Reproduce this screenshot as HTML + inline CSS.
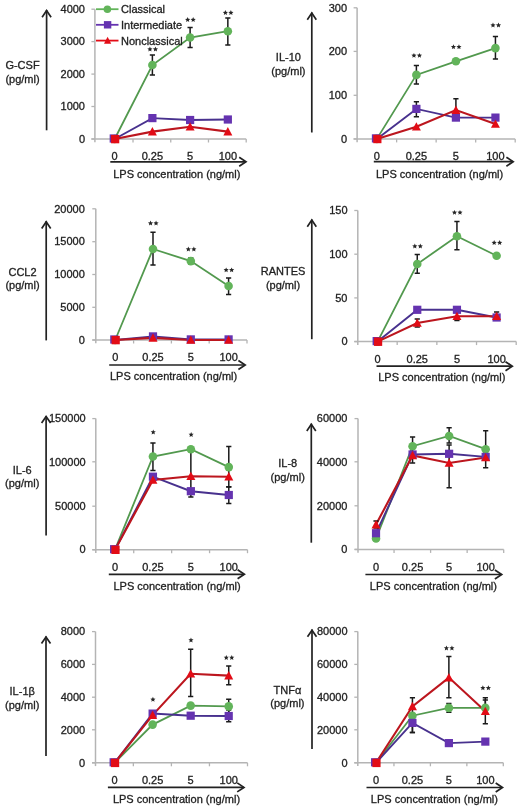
<!DOCTYPE html>
<html><head><meta charset="utf-8"><style>
html,body{margin:0;padding:0;background:#fff;}
svg{display:block;will-change:transform;filter:blur(0.35px);}
text{stroke:#222;stroke-width:0.3px;}
</style></head><body>
<svg width="520" height="809" viewBox="0 0 520 809" font-family="&quot;Liberation Sans&quot;, sans-serif" font-size="11" fill="#222">
<rect width="520" height="809" fill="#fff"/>
<line x1="94.9" y1="9.2" x2="94.9" y2="142.3" stroke="#b4b4b4" stroke-width="1.5"/>
<line x1="91.4" y1="139" x2="246.2" y2="139" stroke="#b4b4b4" stroke-width="1.5"/>
<line x1="91.4" y1="139" x2="94.9" y2="139" stroke="#b4b4b4" stroke-width="1.3"/>
<text x="85" y="142.7" text-anchor="end">0</text>
<line x1="91.4" y1="106.5" x2="94.9" y2="106.5" stroke="#b4b4b4" stroke-width="1.3"/>
<text x="85" y="110.2" text-anchor="end">1000</text>
<line x1="91.4" y1="74.1" x2="94.9" y2="74.1" stroke="#b4b4b4" stroke-width="1.3"/>
<text x="85" y="77.8" text-anchor="end">2000</text>
<line x1="91.4" y1="41.6" x2="94.9" y2="41.6" stroke="#b4b4b4" stroke-width="1.3"/>
<text x="85" y="45.3" text-anchor="end">3000</text>
<line x1="91.4" y1="9.2" x2="94.9" y2="9.2" stroke="#b4b4b4" stroke-width="1.3"/>
<text x="85" y="12.9" text-anchor="end">4000</text>
<line x1="133.02" y1="139" x2="133.02" y2="142.5" stroke="#b4b4b4" stroke-width="1.3"/>
<line x1="170.75" y1="139" x2="170.75" y2="142.5" stroke="#b4b4b4" stroke-width="1.3"/>
<line x1="208.47" y1="139" x2="208.47" y2="142.5" stroke="#b4b4b4" stroke-width="1.3"/>
<line x1="246.2" y1="139" x2="246.2" y2="142.5" stroke="#b4b4b4" stroke-width="1.3"/>
<line x1="46.6" y1="10" x2="46.6" y2="130.3" stroke="#222" stroke-width="1.7"/>
<polyline points="42.1,17.2 46.6,10.6 51.1,17.2" fill="none" stroke="#222" stroke-width="1.7"/>
<text x="22.5" y="68.7" text-anchor="middle">G-CSF</text>
<text x="22.5" y="82.5" text-anchor="middle">(pg/ml)</text>
<text x="114.66" y="160.1" text-anchor="middle">0</text>
<text x="152.39" y="160.1" text-anchor="middle">0.25</text>
<text x="190.11" y="160.1" text-anchor="middle">5</text>
<text x="227.84" y="160.1" text-anchor="middle">100</text>
<line x1="110.3" y1="161.8" x2="245.6" y2="161.8" stroke="#222" stroke-width="1.7"/>
<polyline points="239.2,157.3 246,161.8 239.2,166.3" fill="none" stroke="#222" stroke-width="1.7"/>
<text x="113.2" y="178.1">LPS concentration (ng/ml)</text>
<polyline points="114.66,139 152.39,65 190.11,37.5 227.84,31.2" fill="none" stroke="#52994e" stroke-width="1.8"/>
<polyline points="114.66,139 152.39,118.1 190.11,120 227.84,119.5" fill="none" stroke="#48318e" stroke-width="1.9"/>
<polyline points="114.66,139 152.39,131.6 190.11,126.8 227.84,131.6" fill="none" stroke="#bc161e" stroke-width="2.1"/>
<path d="M152.39 55.1V74.9M149.79 55.1H154.99M149.79 74.9H154.99" stroke="#1a1a1a" stroke-width="1.5" fill="none"/>
<path d="M190.11 27.6V47.4M187.51 27.6H192.71M187.51 47.4H192.71" stroke="#1a1a1a" stroke-width="1.5" fill="none"/>
<path d="M227.84 18V44.9M225.24 18H230.44M225.24 44.9H230.44" stroke="#1a1a1a" stroke-width="1.5" fill="none"/>
<circle cx="114.66" cy="139" r="4.3" fill="#62b45a"/>
<circle cx="152.39" cy="65" r="4.3" fill="#62b45a"/>
<circle cx="190.11" cy="37.5" r="4.3" fill="#62b45a"/>
<circle cx="227.84" cy="31.2" r="4.3" fill="#62b45a"/>
<rect x="109.66" y="134.4" width="8.2" height="8.2" fill="#6533b0"/>
<rect x="148.29" y="114" width="8.2" height="8.2" fill="#6533b0"/>
<rect x="186.01" y="115.9" width="8.2" height="8.2" fill="#6533b0"/>
<rect x="223.74" y="115.4" width="8.2" height="8.2" fill="#6533b0"/>
<rect x="111.06" y="134.9" width="8.2" height="8.4" fill="#e20c16"/>
<polygon points="152.39,126.98 147.89,135.38 156.89,135.38" fill="#e20c16"/>
<polygon points="190.11,122.18 185.61,130.58 194.61,130.58" fill="#e20c16"/>
<polygon points="227.84,126.98 223.34,135.38 232.34,135.38" fill="#e20c16"/>
<polygon points="149.94,46.6 150.67,48.29 152.51,48.47 151.13,49.69 151.52,51.48 149.94,50.55 148.35,51.48 148.75,49.69 147.37,48.47 149.2,48.29" fill="#262626"/>
<polygon points="155.44,46.6 156.17,48.29 158.01,48.47 156.63,49.69 157.02,51.48 155.44,50.55 153.85,51.48 154.25,49.69 152.87,48.47 154.7,48.29" fill="#262626"/>
<polygon points="187.66,17.1 188.4,18.79 190.23,18.97 188.85,20.19 189.25,21.98 187.66,21.05 186.08,21.98 186.47,20.19 185.09,18.97 186.93,18.79" fill="#262626"/>
<polygon points="193.16,17.1 193.9,18.79 195.73,18.97 194.35,20.19 194.75,21.98 193.16,21.05 191.58,21.98 191.97,20.19 190.59,18.97 192.43,18.79" fill="#262626"/>
<polygon points="225.39,10.1 226.12,11.79 227.96,11.97 226.58,13.19 226.97,14.98 225.39,14.05 223.8,14.98 224.2,13.19 222.82,11.97 224.65,11.79" fill="#262626"/>
<polygon points="230.89,10.1 231.62,11.79 233.46,11.97 232.08,13.19 232.47,14.98 230.89,14.05 229.3,14.98 229.7,13.19 228.32,11.97 230.15,11.79" fill="#262626"/>
<line x1="96" y1="9.2" x2="118.5" y2="9.2" stroke="#62b45a" stroke-width="1.8"/>
<circle cx="107.4" cy="9.2" r="3.8" fill="#62b45a"/>
<text x="121" y="13.1">Classical</text>
<line x1="96" y1="24.8" x2="118.5" y2="24.8" stroke="#6533b0" stroke-width="1.8"/>
<rect x="103.9" y="21.1" width="7.4" height="7.4" fill="#6533b0"/>
<text x="121" y="28.7">Intermediate</text>
<line x1="96" y1="40.6" x2="118.5" y2="40.6" stroke="#e20c16" stroke-width="1.8"/>
<polygon points="107.6,36.86 104,43.66 111.2,43.66" fill="#e20c16"/>
<text x="121" y="44.5">Nonclassical</text>
<line x1="357.1" y1="7.8" x2="357.1" y2="142.2" stroke="#b4b4b4" stroke-width="1.5"/>
<line x1="353.6" y1="138.9" x2="515.2" y2="138.9" stroke="#b4b4b4" stroke-width="1.5"/>
<line x1="353.6" y1="138.9" x2="357.1" y2="138.9" stroke="#b4b4b4" stroke-width="1.3"/>
<text x="347" y="142.6" text-anchor="end">0</text>
<line x1="353.6" y1="95.3" x2="357.1" y2="95.3" stroke="#b4b4b4" stroke-width="1.3"/>
<text x="347" y="99" text-anchor="end">100</text>
<line x1="353.6" y1="51.4" x2="357.1" y2="51.4" stroke="#b4b4b4" stroke-width="1.3"/>
<text x="347" y="55.1" text-anchor="end">200</text>
<line x1="353.6" y1="7.8" x2="357.1" y2="7.8" stroke="#b4b4b4" stroke-width="1.3"/>
<text x="347" y="11.5" text-anchor="end">300</text>
<line x1="396.62" y1="138.9" x2="396.62" y2="142.4" stroke="#b4b4b4" stroke-width="1.3"/>
<line x1="436.15" y1="138.9" x2="436.15" y2="142.4" stroke="#b4b4b4" stroke-width="1.3"/>
<line x1="475.68" y1="138.9" x2="475.68" y2="142.4" stroke="#b4b4b4" stroke-width="1.3"/>
<line x1="515.2" y1="138.9" x2="515.2" y2="142.4" stroke="#b4b4b4" stroke-width="1.3"/>
<line x1="311.8" y1="12.5" x2="311.8" y2="132.5" stroke="#222" stroke-width="1.7"/>
<polyline points="307.3,19.7 311.8,13.1 316.3,19.7" fill="none" stroke="#222" stroke-width="1.7"/>
<text x="288.4" y="60.8" text-anchor="middle">IL-10</text>
<text x="288.4" y="75.2" text-anchor="middle">(pg/ml)</text>
<text x="376.86" y="160.3" text-anchor="middle">0</text>
<text x="416.39" y="160.3" text-anchor="middle">0.25</text>
<text x="455.91" y="160.3" text-anchor="middle">5</text>
<text x="495.44" y="160.3" text-anchor="middle">100</text>
<line x1="373.8" y1="161.7" x2="512.8" y2="161.7" stroke="#222" stroke-width="1.7"/>
<polyline points="506.4,157.2 513.2,161.7 506.4,166.2" fill="none" stroke="#222" stroke-width="1.7"/>
<text x="376" y="178.2">LPS concentration (ng/ml)</text>
<polyline points="376.86,138.9 416.39,74.9 455.91,61.3 495.44,48.1" fill="none" stroke="#52994e" stroke-width="1.8"/>
<polyline points="376.86,138.9 416.39,108.9 455.91,117.6 495.44,117.6" fill="none" stroke="#48318e" stroke-width="1.9"/>
<polyline points="376.86,138.9 416.39,126.8 455.91,110.1 495.44,124" fill="none" stroke="#bc161e" stroke-width="2.1"/>
<path d="M416.39 65.4V84.1M413.79 65.4H418.99M413.79 84.1H418.99" stroke="#1a1a1a" stroke-width="1.5" fill="none"/>
<path d="M495.44 36.5V59M492.84 36.5H498.04M492.84 59H498.04" stroke="#1a1a1a" stroke-width="1.5" fill="none"/>
<path d="M416.39 101.7V116.7M413.79 101.7H418.99M413.79 116.7H418.99" stroke="#1a1a1a" stroke-width="1.5" fill="none"/>
<path d="M455.91 98.8V115M453.31 98.8H458.51M453.31 115H458.51" stroke="#1a1a1a" stroke-width="1.5" fill="none"/>
<circle cx="376.86" cy="138.9" r="4.3" fill="#62b45a"/>
<circle cx="416.39" cy="74.9" r="4.3" fill="#62b45a"/>
<circle cx="455.91" cy="61.3" r="4.3" fill="#62b45a"/>
<circle cx="495.44" cy="48.1" r="4.3" fill="#62b45a"/>
<rect x="371.86" y="134.3" width="8.2" height="8.2" fill="#6533b0"/>
<rect x="412.29" y="104.8" width="8.2" height="8.2" fill="#6533b0"/>
<rect x="451.81" y="113.5" width="8.2" height="8.2" fill="#6533b0"/>
<rect x="491.34" y="113.5" width="8.2" height="8.2" fill="#6533b0"/>
<rect x="373.26" y="134.8" width="8.2" height="8.4" fill="#e20c16"/>
<polygon points="416.39,122.18 411.89,130.58 420.89,130.58" fill="#e20c16"/>
<polygon points="455.91,105.48 451.41,113.88 460.41,113.88" fill="#e20c16"/>
<polygon points="495.44,119.38 490.94,127.78 499.94,127.78" fill="#e20c16"/>
<polygon points="413.94,52.9 414.67,54.59 416.51,54.77 415.13,55.99 415.52,57.78 413.94,56.85 412.35,57.78 412.75,55.99 411.37,54.77 413.2,54.59" fill="#262626"/>
<polygon points="419.44,52.9 420.17,54.59 422.01,54.77 420.63,55.99 421.02,57.78 419.44,56.85 417.85,57.78 418.25,55.99 416.87,54.77 418.7,54.59" fill="#262626"/>
<polygon points="453.46,44.2 454.2,45.89 456.03,46.07 454.65,47.29 455.05,49.08 453.46,48.15 451.88,49.08 452.27,47.29 450.89,46.07 452.73,45.89" fill="#262626"/>
<polygon points="458.96,44.2 459.7,45.89 461.53,46.07 460.15,47.29 460.55,49.08 458.96,48.15 457.38,49.08 457.77,47.29 456.39,46.07 458.23,45.89" fill="#262626"/>
<polygon points="492.99,22.6 493.72,24.29 495.56,24.47 494.18,25.69 494.57,27.48 492.99,26.55 491.4,27.48 491.8,25.69 490.42,24.47 492.25,24.29" fill="#262626"/>
<polygon points="498.49,22.6 499.22,24.29 501.06,24.47 499.68,25.69 500.07,27.48 498.49,26.55 496.9,27.48 497.3,25.69 495.92,24.47 497.75,24.29" fill="#262626"/>
<line x1="95.8" y1="208.8" x2="95.8" y2="343.3" stroke="#b4b4b4" stroke-width="1.5"/>
<line x1="92.3" y1="340" x2="247" y2="340" stroke="#b4b4b4" stroke-width="1.5"/>
<line x1="92.3" y1="340" x2="95.8" y2="340" stroke="#b4b4b4" stroke-width="1.3"/>
<text x="84.8" y="343.7" text-anchor="end">0</text>
<line x1="92.3" y1="307.3" x2="95.8" y2="307.3" stroke="#b4b4b4" stroke-width="1.3"/>
<text x="84.8" y="311" text-anchor="end">5000</text>
<line x1="92.3" y1="274.5" x2="95.8" y2="274.5" stroke="#b4b4b4" stroke-width="1.3"/>
<text x="84.8" y="278.2" text-anchor="end">10000</text>
<line x1="92.3" y1="241.7" x2="95.8" y2="241.7" stroke="#b4b4b4" stroke-width="1.3"/>
<text x="84.8" y="245.4" text-anchor="end">15000</text>
<line x1="92.3" y1="208.8" x2="95.8" y2="208.8" stroke="#b4b4b4" stroke-width="1.3"/>
<text x="84.8" y="212.5" text-anchor="end">20000</text>
<line x1="133.6" y1="340" x2="133.6" y2="343.5" stroke="#b4b4b4" stroke-width="1.3"/>
<line x1="171.4" y1="340" x2="171.4" y2="343.5" stroke="#b4b4b4" stroke-width="1.3"/>
<line x1="209.2" y1="340" x2="209.2" y2="343.5" stroke="#b4b4b4" stroke-width="1.3"/>
<line x1="247" y1="340" x2="247" y2="343.5" stroke="#b4b4b4" stroke-width="1.3"/>
<line x1="46.2" y1="221.2" x2="46.2" y2="340.4" stroke="#222" stroke-width="1.7"/>
<polyline points="41.7,228.4 46.2,221.8 50.7,228.4" fill="none" stroke="#222" stroke-width="1.7"/>
<text x="22.5" y="276" text-anchor="middle">CCL2</text>
<text x="22.5" y="288.6" text-anchor="middle">(pg/ml)</text>
<text x="115.2" y="361.2" text-anchor="middle">0</text>
<text x="153" y="361.2" text-anchor="middle">0.25</text>
<text x="190.8" y="361.2" text-anchor="middle">5</text>
<text x="228.6" y="361.2" text-anchor="middle">100</text>
<line x1="109.2" y1="365" x2="244.8" y2="365" stroke="#222" stroke-width="1.7"/>
<polyline points="238.4,360.5 245.2,365 238.4,369.5" fill="none" stroke="#222" stroke-width="1.7"/>
<text x="110" y="380.2">LPS concentration (ng/ml)</text>
<polyline points="115.2,340 153,249 190.8,261.1 228.6,286" fill="none" stroke="#52994e" stroke-width="1.8"/>
<polyline points="115.2,340 153,336.4 190.8,339.4 228.6,339.4" fill="none" stroke="#48318e" stroke-width="1.9"/>
<polyline points="115.2,340 153,337.9 190.8,340 228.6,340" fill="none" stroke="#bc161e" stroke-width="2.1"/>
<path d="M153 232.3V264.9M150.4 232.3H155.6M150.4 264.9H155.6" stroke="#1a1a1a" stroke-width="1.5" fill="none"/>
<path d="M190.8 258V264M188.2 258H193.4M188.2 264H193.4" stroke="#1a1a1a" stroke-width="1.5" fill="none"/>
<path d="M228.6 277.9V294.6M226 277.9H231.2M226 294.6H231.2" stroke="#1a1a1a" stroke-width="1.5" fill="none"/>
<circle cx="115.2" cy="340" r="4.3" fill="#62b45a"/>
<circle cx="153" cy="249" r="4.3" fill="#62b45a"/>
<circle cx="190.8" cy="261.1" r="4.3" fill="#62b45a"/>
<circle cx="228.6" cy="286" r="4.3" fill="#62b45a"/>
<rect x="110.2" y="335.4" width="8.2" height="8.2" fill="#6533b0"/>
<rect x="148.9" y="332.3" width="8.2" height="8.2" fill="#6533b0"/>
<rect x="186.7" y="335.3" width="8.2" height="8.2" fill="#6533b0"/>
<rect x="224.5" y="335.3" width="8.2" height="8.2" fill="#6533b0"/>
<rect x="111.6" y="335.9" width="8.2" height="8.4" fill="#e20c16"/>
<polygon points="153,333.28 148.5,341.68 157.5,341.68" fill="#e20c16"/>
<polygon points="190.8,335.38 186.3,343.78 195.3,343.78" fill="#e20c16"/>
<polygon points="228.6,335.38 224.1,343.78 233.1,343.78" fill="#e20c16"/>
<polygon points="150.55,220.6 151.28,222.29 153.12,222.47 151.74,223.69 152.14,225.48 150.55,224.55 148.96,225.48 149.36,223.69 147.98,222.47 149.82,222.29" fill="#262626"/>
<polygon points="156.05,220.6 156.78,222.29 158.62,222.47 157.24,223.69 157.64,225.48 156.05,224.55 154.46,225.48 154.86,223.69 153.48,222.47 155.32,222.29" fill="#262626"/>
<polygon points="188.35,246.6 189.08,248.29 190.92,248.47 189.54,249.69 189.94,251.48 188.35,250.55 186.76,251.48 187.16,249.69 185.78,248.47 187.62,248.29" fill="#262626"/>
<polygon points="193.85,246.6 194.58,248.29 196.42,248.47 195.04,249.69 195.44,251.48 193.85,250.55 192.26,251.48 192.66,249.69 191.28,248.47 193.12,248.29" fill="#262626"/>
<polygon points="226.15,267.4 226.88,269.09 228.72,269.27 227.34,270.49 227.74,272.28 226.15,271.35 224.56,272.28 224.96,270.49 223.58,269.27 225.42,269.09" fill="#262626"/>
<polygon points="231.65,267.4 232.38,269.09 234.22,269.27 232.84,270.49 233.24,272.28 231.65,271.35 230.06,272.28 230.46,270.49 229.08,269.27 230.92,269.09" fill="#262626"/>
<line x1="357.8" y1="210.5" x2="357.8" y2="344.9" stroke="#b4b4b4" stroke-width="1.5"/>
<line x1="354.3" y1="341.6" x2="516.2" y2="341.6" stroke="#b4b4b4" stroke-width="1.5"/>
<line x1="354.3" y1="341.6" x2="357.8" y2="341.6" stroke="#b4b4b4" stroke-width="1.3"/>
<text x="347.5" y="345.3" text-anchor="end">0</text>
<line x1="354.3" y1="297.9" x2="357.8" y2="297.9" stroke="#b4b4b4" stroke-width="1.3"/>
<text x="347.5" y="301.6" text-anchor="end">50</text>
<line x1="354.3" y1="254.2" x2="357.8" y2="254.2" stroke="#b4b4b4" stroke-width="1.3"/>
<text x="347.5" y="257.9" text-anchor="end">100</text>
<line x1="354.3" y1="210.5" x2="357.8" y2="210.5" stroke="#b4b4b4" stroke-width="1.3"/>
<text x="347.5" y="214.2" text-anchor="end">150</text>
<line x1="397.18" y1="341.6" x2="397.18" y2="345.1" stroke="#b4b4b4" stroke-width="1.3"/>
<line x1="436.85" y1="341.6" x2="436.85" y2="345.1" stroke="#b4b4b4" stroke-width="1.3"/>
<line x1="476.53" y1="341.6" x2="476.53" y2="345.1" stroke="#b4b4b4" stroke-width="1.3"/>
<line x1="516.2" y1="341.6" x2="516.2" y2="345.1" stroke="#b4b4b4" stroke-width="1.3"/>
<line x1="311.8" y1="219.5" x2="311.8" y2="339.2" stroke="#222" stroke-width="1.7"/>
<polyline points="307.3,226.7 311.8,220.1 316.3,226.7" fill="none" stroke="#222" stroke-width="1.7"/>
<text x="283" y="275.3" text-anchor="middle">RANTES</text>
<text x="283" y="289" text-anchor="middle">(pg/ml)</text>
<text x="377.59" y="363" text-anchor="middle">0</text>
<text x="417.26" y="363" text-anchor="middle">0.25</text>
<text x="456.94" y="363" text-anchor="middle">5</text>
<text x="496.61" y="363" text-anchor="middle">100</text>
<line x1="376.5" y1="366.2" x2="511.9" y2="366.2" stroke="#222" stroke-width="1.7"/>
<polyline points="505.5,361.7 512.3,366.2 505.5,370.7" fill="none" stroke="#222" stroke-width="1.7"/>
<text x="378.2" y="381">LPS concentration (ng/ml)</text>
<polyline points="377.59,341.6 417.26,264 456.94,236.3 496.61,255.7" fill="none" stroke="#52994e" stroke-width="1.8"/>
<polyline points="377.59,341.6 417.26,309.8 456.94,309.8 496.61,317.5" fill="none" stroke="#48318e" stroke-width="1.9"/>
<polyline points="377.59,341.6 417.26,323 456.94,316.3 496.61,316.3" fill="none" stroke="#bc161e" stroke-width="2.1"/>
<path d="M417.26 254.5V273.2M414.66 254.5H419.86M414.66 273.2H419.86" stroke="#1a1a1a" stroke-width="1.5" fill="none"/>
<path d="M456.94 221.5V249.8M454.34 221.5H459.54M454.34 249.8H459.54" stroke="#1a1a1a" stroke-width="1.5" fill="none"/>
<path d="M417.26 319V327M414.66 319H419.86M414.66 327H419.86" stroke="#1a1a1a" stroke-width="1.5" fill="none"/>
<path d="M456.94 312V320.6M454.34 312H459.54M454.34 320.6H459.54" stroke="#1a1a1a" stroke-width="1.5" fill="none"/>
<path d="M496.61 312V320M494.01 312H499.21M494.01 320H499.21" stroke="#1a1a1a" stroke-width="1.5" fill="none"/>
<circle cx="377.59" cy="341.6" r="4.3" fill="#62b45a"/>
<circle cx="417.26" cy="264" r="4.3" fill="#62b45a"/>
<circle cx="456.94" cy="236.3" r="4.3" fill="#62b45a"/>
<circle cx="496.61" cy="255.7" r="4.3" fill="#62b45a"/>
<rect x="372.59" y="337" width="8.2" height="8.2" fill="#6533b0"/>
<rect x="413.16" y="305.7" width="8.2" height="8.2" fill="#6533b0"/>
<rect x="452.84" y="305.7" width="8.2" height="8.2" fill="#6533b0"/>
<rect x="492.51" y="313.4" width="8.2" height="8.2" fill="#6533b0"/>
<rect x="373.99" y="337.5" width="8.2" height="8.4" fill="#e20c16"/>
<polygon points="417.26,318.38 412.76,326.78 421.76,326.78" fill="#e20c16"/>
<polygon points="456.94,311.68 452.44,320.08 461.44,320.08" fill="#e20c16"/>
<polygon points="496.61,311.68 492.11,320.08 501.11,320.08" fill="#e20c16"/>
<polygon points="414.81,243.6 415.55,245.29 417.38,245.47 416,246.69 416.4,248.48 414.81,247.55 413.23,248.48 413.62,246.69 412.24,245.47 414.08,245.29" fill="#262626"/>
<polygon points="420.31,243.6 421.05,245.29 422.88,245.47 421.5,246.69 421.9,248.48 420.31,247.55 418.73,248.48 419.12,246.69 417.74,245.47 419.58,245.29" fill="#262626"/>
<polygon points="454.49,209.9 455.22,211.59 457.06,211.77 455.68,212.99 456.07,214.78 454.49,213.85 452.9,214.78 453.3,212.99 451.92,211.77 453.75,211.59" fill="#262626"/>
<polygon points="459.99,209.9 460.72,211.59 462.56,211.77 461.18,212.99 461.57,214.78 459.99,213.85 458.4,214.78 458.8,212.99 457.42,211.77 459.25,211.59" fill="#262626"/>
<polygon points="494.16,240.1 494.9,241.79 496.73,241.97 495.35,243.19 495.75,244.98 494.16,244.05 492.58,244.98 492.97,243.19 491.59,241.97 493.43,241.79" fill="#262626"/>
<polygon points="499.66,240.1 500.4,241.79 502.23,241.97 500.85,243.19 501.25,244.98 499.66,244.05 498.08,244.98 498.47,243.19 497.09,241.97 498.93,241.79" fill="#262626"/>
<line x1="95.8" y1="418.6" x2="95.8" y2="553" stroke="#b4b4b4" stroke-width="1.5"/>
<line x1="92.3" y1="549.7" x2="247.5" y2="549.7" stroke="#b4b4b4" stroke-width="1.5"/>
<line x1="92.3" y1="549.7" x2="95.8" y2="549.7" stroke="#b4b4b4" stroke-width="1.3"/>
<text x="85.7" y="553.4" text-anchor="end">0</text>
<line x1="92.3" y1="506.2" x2="95.8" y2="506.2" stroke="#b4b4b4" stroke-width="1.3"/>
<text x="85.7" y="509.9" text-anchor="end">50000</text>
<line x1="92.3" y1="461.8" x2="95.8" y2="461.8" stroke="#b4b4b4" stroke-width="1.3"/>
<text x="85.7" y="465.5" text-anchor="end">100000</text>
<line x1="92.3" y1="418.6" x2="95.8" y2="418.6" stroke="#b4b4b4" stroke-width="1.3"/>
<text x="85.7" y="422.3" text-anchor="end">150000</text>
<line x1="133.72" y1="549.7" x2="133.72" y2="553.2" stroke="#b4b4b4" stroke-width="1.3"/>
<line x1="171.65" y1="549.7" x2="171.65" y2="553.2" stroke="#b4b4b4" stroke-width="1.3"/>
<line x1="209.57" y1="549.7" x2="209.57" y2="553.2" stroke="#b4b4b4" stroke-width="1.3"/>
<line x1="247.5" y1="549.7" x2="247.5" y2="553.2" stroke="#b4b4b4" stroke-width="1.3"/>
<line x1="46.1" y1="415.9" x2="46.1" y2="535.6" stroke="#222" stroke-width="1.7"/>
<polyline points="41.6,423.1 46.1,416.5 50.6,423.1" fill="none" stroke="#222" stroke-width="1.7"/>
<text x="22.2" y="473.8" text-anchor="middle">IL-6</text>
<text x="22.2" y="487.1" text-anchor="middle">(pg/ml)</text>
<text x="115.01" y="570.8" text-anchor="middle">0</text>
<text x="152.94" y="570.8" text-anchor="middle">0.25</text>
<text x="190.86" y="570.8" text-anchor="middle">5</text>
<text x="228.79" y="570.8" text-anchor="middle">100</text>
<line x1="108.8" y1="574.3" x2="244" y2="574.3" stroke="#222" stroke-width="1.7"/>
<polyline points="237.6,569.8 244.4,574.3 237.6,578.8" fill="none" stroke="#222" stroke-width="1.7"/>
<text x="113.5" y="589.8">LPS concentration (ng/ml)</text>
<polyline points="115.01,549.7 152.94,456.5 190.86,449.2 228.79,467.1" fill="none" stroke="#52994e" stroke-width="1.8"/>
<polyline points="115.01,549.7 152.94,476.7 190.86,491.2 228.79,495" fill="none" stroke="#48318e" stroke-width="1.9"/>
<polyline points="115.01,549.7 152.94,480 190.86,476.2 228.79,476.7" fill="none" stroke="#bc161e" stroke-width="2.1"/>
<path d="M152.94 443.1V470.4M150.34 443.1H155.54M150.34 470.4H155.54" stroke="#1a1a1a" stroke-width="1.5" fill="none"/>
<path d="M190.86 449V497M188.26 449H193.46M188.26 497H193.46" stroke="#1a1a1a" stroke-width="1.5" fill="none"/>
<path d="M228.79 446.4V486.8M226.19 446.4H231.39M226.19 486.8H231.39" stroke="#1a1a1a" stroke-width="1.5" fill="none"/>
<path d="M228.79 487V503.6M226.19 487H231.39M226.19 503.6H231.39" stroke="#1a1a1a" stroke-width="1.5" fill="none"/>
<circle cx="115.01" cy="549.7" r="4.3" fill="#62b45a"/>
<circle cx="152.94" cy="456.5" r="4.3" fill="#62b45a"/>
<circle cx="190.86" cy="449.2" r="4.3" fill="#62b45a"/>
<circle cx="228.79" cy="467.1" r="4.3" fill="#62b45a"/>
<rect x="110.01" y="545.1" width="8.2" height="8.2" fill="#6533b0"/>
<rect x="148.84" y="472.6" width="8.2" height="8.2" fill="#6533b0"/>
<rect x="186.76" y="487.1" width="8.2" height="8.2" fill="#6533b0"/>
<rect x="224.69" y="490.9" width="8.2" height="8.2" fill="#6533b0"/>
<rect x="111.41" y="545.6" width="8.2" height="8.4" fill="#e20c16"/>
<polygon points="152.94,475.38 148.44,483.78 157.44,483.78" fill="#e20c16"/>
<polygon points="190.86,471.58 186.36,479.98 195.36,479.98" fill="#e20c16"/>
<polygon points="228.79,472.08 224.29,480.48 233.29,480.48" fill="#e20c16"/>
<polygon points="153.24,429.5 153.97,431.19 155.81,431.37 154.43,432.59 154.82,434.38 153.24,433.45 151.65,434.38 152.05,432.59 150.67,431.37 152.5,431.19" fill="#262626"/>
<polygon points="191.16,432 191.9,433.69 193.73,433.87 192.35,435.09 192.75,436.88 191.16,435.95 189.58,436.88 189.97,435.09 188.59,433.87 190.43,433.69" fill="#262626"/>
<line x1="358" y1="418.6" x2="358" y2="552.7" stroke="#b4b4b4" stroke-width="1.5"/>
<line x1="354.5" y1="549.4" x2="503.7" y2="549.4" stroke="#b4b4b4" stroke-width="1.5"/>
<line x1="354.5" y1="549.4" x2="358" y2="549.4" stroke="#b4b4b4" stroke-width="1.3"/>
<text x="347.4" y="553.1" text-anchor="end">0</text>
<line x1="354.5" y1="505.8" x2="358" y2="505.8" stroke="#b4b4b4" stroke-width="1.3"/>
<text x="347.4" y="509.5" text-anchor="end">20000</text>
<line x1="354.5" y1="461.8" x2="358" y2="461.8" stroke="#b4b4b4" stroke-width="1.3"/>
<text x="347.4" y="465.5" text-anchor="end">40000</text>
<line x1="354.5" y1="418.6" x2="358" y2="418.6" stroke="#b4b4b4" stroke-width="1.3"/>
<text x="347.4" y="422.3" text-anchor="end">60000</text>
<line x1="394.05" y1="549.4" x2="394.05" y2="552.9" stroke="#b4b4b4" stroke-width="1.3"/>
<line x1="430.6" y1="549.4" x2="430.6" y2="552.9" stroke="#b4b4b4" stroke-width="1.3"/>
<line x1="467.15" y1="549.4" x2="467.15" y2="552.9" stroke="#b4b4b4" stroke-width="1.3"/>
<line x1="503.7" y1="549.4" x2="503.7" y2="552.9" stroke="#b4b4b4" stroke-width="1.3"/>
<line x1="311.3" y1="423.7" x2="311.3" y2="542.7" stroke="#222" stroke-width="1.7"/>
<polyline points="306.8,430.9 311.3,424.3 315.8,430.9" fill="none" stroke="#222" stroke-width="1.7"/>
<text x="287.7" y="467.2" text-anchor="middle">IL-8</text>
<text x="287.7" y="481" text-anchor="middle">(pg/ml)</text>
<text x="376.02" y="570.8" text-anchor="middle">0</text>
<text x="412.57" y="570.8" text-anchor="middle">0.25</text>
<text x="449.12" y="570.8" text-anchor="middle">5</text>
<text x="485.67" y="570.8" text-anchor="middle">100</text>
<line x1="365.4" y1="574.5" x2="501.3" y2="574.5" stroke="#222" stroke-width="1.7"/>
<polyline points="494.9,570 501.7,574.5 494.9,579" fill="none" stroke="#222" stroke-width="1.7"/>
<text x="369.8" y="589.9">LPS concentration (ng/ml)</text>
<polyline points="376.02,538.5 412.57,446.2 449.12,436 485.67,449.2" fill="none" stroke="#52994e" stroke-width="1.8"/>
<polyline points="376.02,533.2 412.57,454.5 449.12,453.8 485.67,456.9" fill="none" stroke="#48318e" stroke-width="1.9"/>
<polyline points="376.02,524.6 412.57,455.4 449.12,463 485.67,457.5" fill="none" stroke="#bc161e" stroke-width="2.1"/>
<path d="M412.57 436.9V456M409.97 436.9H415.18M409.97 456H415.18" stroke="#1a1a1a" stroke-width="1.5" fill="none"/>
<path d="M449.12 427.7V443M446.52 427.7H451.73M446.52 443H451.73" stroke="#1a1a1a" stroke-width="1.5" fill="none"/>
<path d="M485.67 430.8V467.7M483.07 430.8H488.27M483.07 467.7H488.27" stroke="#1a1a1a" stroke-width="1.5" fill="none"/>
<path d="M376.02 521V528M373.42 521H378.62M373.42 528H378.62" stroke="#1a1a1a" stroke-width="1.5" fill="none"/>
<path d="M412.57 452V463M409.97 452H415.18M409.97 463H415.18" stroke="#1a1a1a" stroke-width="1.5" fill="none"/>
<path d="M449.12 445V487.7M446.52 445H451.73M446.52 487.7H451.73" stroke="#1a1a1a" stroke-width="1.5" fill="none"/>
<circle cx="376.02" cy="538.5" r="4.3" fill="#62b45a"/>
<circle cx="412.57" cy="446.2" r="4.3" fill="#62b45a"/>
<circle cx="449.12" cy="436" r="4.3" fill="#62b45a"/>
<circle cx="485.67" cy="449.2" r="4.3" fill="#62b45a"/>
<rect x="371.92" y="529.1" width="8.2" height="8.2" fill="#6533b0"/>
<rect x="408.47" y="450.4" width="8.2" height="8.2" fill="#6533b0"/>
<rect x="445.02" y="449.7" width="8.2" height="8.2" fill="#6533b0"/>
<rect x="481.57" y="452.8" width="8.2" height="8.2" fill="#6533b0"/>
<polygon points="376.02,519.98 371.52,528.38 380.52,528.38" fill="#e20c16"/>
<polygon points="412.57,450.78 408.07,459.18 417.07,459.18" fill="#e20c16"/>
<polygon points="449.12,458.38 444.62,466.78 453.62,466.78" fill="#e20c16"/>
<polygon points="485.67,452.88 481.17,461.28 490.17,461.28" fill="#e20c16"/>
<line x1="95.5" y1="631.6" x2="95.5" y2="766.1" stroke="#b4b4b4" stroke-width="1.5"/>
<line x1="92" y1="762.8" x2="247.5" y2="762.8" stroke="#b4b4b4" stroke-width="1.5"/>
<line x1="92" y1="762.8" x2="95.5" y2="762.8" stroke="#b4b4b4" stroke-width="1.3"/>
<text x="85.2" y="766.5" text-anchor="end">0</text>
<line x1="92" y1="729.8" x2="95.5" y2="729.8" stroke="#b4b4b4" stroke-width="1.3"/>
<text x="85.2" y="733.5" text-anchor="end">2000</text>
<line x1="92" y1="697.2" x2="95.5" y2="697.2" stroke="#b4b4b4" stroke-width="1.3"/>
<text x="85.2" y="700.9" text-anchor="end">4000</text>
<line x1="92" y1="664.4" x2="95.5" y2="664.4" stroke="#b4b4b4" stroke-width="1.3"/>
<text x="85.2" y="668.1" text-anchor="end">6000</text>
<line x1="92" y1="631.6" x2="95.5" y2="631.6" stroke="#b4b4b4" stroke-width="1.3"/>
<text x="85.2" y="635.3" text-anchor="end">8000</text>
<line x1="133.35" y1="762.8" x2="133.35" y2="766.3" stroke="#b4b4b4" stroke-width="1.3"/>
<line x1="171.4" y1="762.8" x2="171.4" y2="766.3" stroke="#b4b4b4" stroke-width="1.3"/>
<line x1="209.45" y1="762.8" x2="209.45" y2="766.3" stroke="#b4b4b4" stroke-width="1.3"/>
<line x1="247.5" y1="762.8" x2="247.5" y2="766.3" stroke="#b4b4b4" stroke-width="1.3"/>
<line x1="46" y1="636.4" x2="46" y2="756.1" stroke="#222" stroke-width="1.7"/>
<polyline points="41.5,643.6 46,637 50.5,643.6" fill="none" stroke="#222" stroke-width="1.7"/>
<text x="22.2" y="694.8" text-anchor="middle">IL-1β</text>
<text x="22.2" y="708.6" text-anchor="middle">(pg/ml)</text>
<text x="114.57" y="784.3" text-anchor="middle">0</text>
<text x="152.62" y="784.3" text-anchor="middle">0.25</text>
<text x="190.68" y="784.3" text-anchor="middle">5</text>
<text x="228.72" y="784.3" text-anchor="middle">100</text>
<line x1="107.9" y1="787.4" x2="243.6" y2="787.4" stroke="#222" stroke-width="1.7"/>
<polyline points="237.2,782.9 244,787.4 237.2,791.9" fill="none" stroke="#222" stroke-width="1.7"/>
<text x="112.9" y="803.2">LPS concentration (ng/ml)</text>
<polyline points="114.57,762.8 152.62,724.6 190.68,705.6 228.72,706.4" fill="none" stroke="#52994e" stroke-width="1.8"/>
<polyline points="114.57,762.8 152.62,713.6 190.68,715.7 228.72,716" fill="none" stroke="#48318e" stroke-width="1.9"/>
<polyline points="114.57,762.8 152.62,715.1 190.68,673.8 228.72,675.6" fill="none" stroke="#bc161e" stroke-width="2.1"/>
<path d="M228.72 699.2V713M226.12 699.2H231.32M226.12 713H231.32" stroke="#1a1a1a" stroke-width="1.5" fill="none"/>
<path d="M228.72 710V721.7M226.12 710H231.32M226.12 721.7H231.32" stroke="#1a1a1a" stroke-width="1.5" fill="none"/>
<path d="M190.68 649.2V696.5M188.08 649.2H193.28M188.08 696.5H193.28" stroke="#1a1a1a" stroke-width="1.5" fill="none"/>
<path d="M228.72 666V684.8M226.12 666H231.32M226.12 684.8H231.32" stroke="#1a1a1a" stroke-width="1.5" fill="none"/>
<circle cx="114.57" cy="762.8" r="4.3" fill="#62b45a"/>
<circle cx="152.62" cy="724.6" r="4.3" fill="#62b45a"/>
<circle cx="190.68" cy="705.6" r="4.3" fill="#62b45a"/>
<circle cx="228.72" cy="706.4" r="4.3" fill="#62b45a"/>
<rect x="109.57" y="758.2" width="8.2" height="8.2" fill="#6533b0"/>
<rect x="148.53" y="709.5" width="8.2" height="8.2" fill="#6533b0"/>
<rect x="186.58" y="711.6" width="8.2" height="8.2" fill="#6533b0"/>
<rect x="224.62" y="711.9" width="8.2" height="8.2" fill="#6533b0"/>
<rect x="110.97" y="758.7" width="8.2" height="8.4" fill="#e20c16"/>
<polygon points="152.62,710.48 148.12,718.88 157.12,718.88" fill="#e20c16"/>
<polygon points="190.68,669.18 186.18,677.58 195.18,677.58" fill="#e20c16"/>
<polygon points="228.72,670.98 224.22,679.38 233.22,679.38" fill="#e20c16"/>
<polygon points="152.93,696.8 153.66,698.49 155.49,698.67 154.11,699.89 154.51,701.68 152.93,700.75 151.34,701.68 151.74,699.89 150.36,698.67 152.19,698.49" fill="#262626"/>
<polygon points="190.98,637.5 191.71,639.19 193.54,639.37 192.16,640.59 192.56,642.38 190.98,641.45 189.39,642.38 189.79,640.59 188.41,639.37 190.24,639.19" fill="#262626"/>
<polygon points="226.27,655 227.01,656.69 228.84,656.87 227.46,658.09 227.86,659.88 226.27,658.95 224.69,659.88 225.09,658.09 223.71,656.87 225.54,656.69" fill="#262626"/>
<polygon points="231.77,655 232.51,656.69 234.34,656.87 232.96,658.09 233.36,659.88 231.77,658.95 230.19,659.88 230.59,658.09 229.21,656.87 231.04,656.69" fill="#262626"/>
<line x1="357.8" y1="631.6" x2="357.8" y2="766.1" stroke="#b4b4b4" stroke-width="1.5"/>
<line x1="354.3" y1="762.8" x2="503.3" y2="762.8" stroke="#b4b4b4" stroke-width="1.5"/>
<line x1="354.3" y1="762.8" x2="357.8" y2="762.8" stroke="#b4b4b4" stroke-width="1.3"/>
<text x="347.5" y="766.5" text-anchor="end">0</text>
<line x1="354.3" y1="729.8" x2="357.8" y2="729.8" stroke="#b4b4b4" stroke-width="1.3"/>
<text x="347.5" y="733.5" text-anchor="end">20000</text>
<line x1="354.3" y1="697.2" x2="357.8" y2="697.2" stroke="#b4b4b4" stroke-width="1.3"/>
<text x="347.5" y="700.9" text-anchor="end">40000</text>
<line x1="354.3" y1="664.4" x2="357.8" y2="664.4" stroke="#b4b4b4" stroke-width="1.3"/>
<text x="347.5" y="668.1" text-anchor="end">60000</text>
<line x1="354.3" y1="631.6" x2="357.8" y2="631.6" stroke="#b4b4b4" stroke-width="1.3"/>
<text x="347.5" y="635.3" text-anchor="end">80000</text>
<line x1="393.95" y1="762.8" x2="393.95" y2="766.3" stroke="#b4b4b4" stroke-width="1.3"/>
<line x1="430.4" y1="762.8" x2="430.4" y2="766.3" stroke="#b4b4b4" stroke-width="1.3"/>
<line x1="466.85" y1="762.8" x2="466.85" y2="766.3" stroke="#b4b4b4" stroke-width="1.3"/>
<line x1="503.3" y1="762.8" x2="503.3" y2="766.3" stroke="#b4b4b4" stroke-width="1.3"/>
<line x1="312" y1="629.6" x2="312" y2="749" stroke="#222" stroke-width="1.7"/>
<polyline points="307.5,636.8 312,630.2 316.5,636.8" fill="none" stroke="#222" stroke-width="1.7"/>
<text x="287.4" y="693.8" text-anchor="middle">TNFα</text>
<text x="287.4" y="706.5" text-anchor="middle">(pg/ml)</text>
<text x="375.98" y="784.3" text-anchor="middle">0</text>
<text x="412.43" y="784.3" text-anchor="middle">0.25</text>
<text x="448.88" y="784.3" text-anchor="middle">5</text>
<text x="485.33" y="784.3" text-anchor="middle">100</text>
<line x1="366.5" y1="787.5" x2="502.1" y2="787.5" stroke="#222" stroke-width="1.7"/>
<polyline points="495.7,783 502.5,787.5 495.7,792" fill="none" stroke="#222" stroke-width="1.7"/>
<text x="370.8" y="803.2">LPS concentration (ng/ml)</text>
<polyline points="375.98,762.8 412.43,715.7 448.88,707.9 485.33,707.9" fill="none" stroke="#52994e" stroke-width="1.8"/>
<polyline points="375.98,762.8 412.43,722.9 448.88,743.1 485.33,741.6" fill="none" stroke="#48318e" stroke-width="1.9"/>
<polyline points="375.98,762.8 412.43,706.4 448.88,677.6 485.33,711.3" fill="none" stroke="#bc161e" stroke-width="2.1"/>
<path d="M412.43 715.7V732.4M409.82 715.7H415.03M409.82 732.4H415.03" stroke="#1a1a1a" stroke-width="1.5" fill="none"/>
<path d="M448.88 703.5V712.2M446.27 703.5H451.48M446.27 712.2H451.48" stroke="#1a1a1a" stroke-width="1.5" fill="none"/>
<path d="M485.33 697.8V710M482.73 697.8H487.93M482.73 710H487.93" stroke="#1a1a1a" stroke-width="1.5" fill="none"/>
<path d="M412.43 716V732.4M409.82 716H415.03M409.82 732.4H415.03" stroke="#1a1a1a" stroke-width="1.5" fill="none"/>
<path d="M412.43 697.8V715M409.82 697.8H415.03M409.82 715H415.03" stroke="#1a1a1a" stroke-width="1.5" fill="none"/>
<path d="M448.88 656.5V697.8M446.27 656.5H451.48M446.27 697.8H451.48" stroke="#1a1a1a" stroke-width="1.5" fill="none"/>
<path d="M485.33 700V723.7M482.73 700H487.93M482.73 723.7H487.93" stroke="#1a1a1a" stroke-width="1.5" fill="none"/>
<circle cx="375.98" cy="762.8" r="4.3" fill="#62b45a"/>
<circle cx="412.43" cy="715.7" r="4.3" fill="#62b45a"/>
<circle cx="448.88" cy="707.9" r="4.3" fill="#62b45a"/>
<circle cx="485.33" cy="707.9" r="4.3" fill="#62b45a"/>
<rect x="370.98" y="758.2" width="8.2" height="8.2" fill="#6533b0"/>
<rect x="408.32" y="718.8" width="8.2" height="8.2" fill="#6533b0"/>
<rect x="444.77" y="739" width="8.2" height="8.2" fill="#6533b0"/>
<rect x="481.23" y="737.5" width="8.2" height="8.2" fill="#6533b0"/>
<rect x="372.38" y="758.7" width="8.2" height="8.4" fill="#e20c16"/>
<polygon points="412.43,701.78 407.93,710.18 416.93,710.18" fill="#e20c16"/>
<polygon points="448.88,672.98 444.38,681.38 453.38,681.38" fill="#e20c16"/>
<polygon points="485.33,706.68 480.83,715.08 489.83,715.08" fill="#e20c16"/>
<polygon points="446.43,645.5 447.16,647.19 448.99,647.37 447.61,648.59 448.01,650.38 446.43,649.45 444.84,650.38 445.24,648.59 443.86,647.37 445.69,647.19" fill="#262626"/>
<polygon points="451.93,645.5 452.66,647.19 454.49,647.37 453.11,648.59 453.51,650.38 451.93,649.45 450.34,650.38 450.74,648.59 449.36,647.37 451.19,647.19" fill="#262626"/>
<polygon points="482.88,685.3 483.61,686.99 485.44,687.17 484.06,688.39 484.46,690.18 482.88,689.25 481.29,690.18 481.69,688.39 480.31,687.17 482.14,686.99" fill="#262626"/>
<polygon points="488.38,685.3 489.11,686.99 490.94,687.17 489.56,688.39 489.96,690.18 488.38,689.25 486.79,690.18 487.19,688.39 485.81,687.17 487.64,686.99" fill="#262626"/>
</svg>
</body></html>
